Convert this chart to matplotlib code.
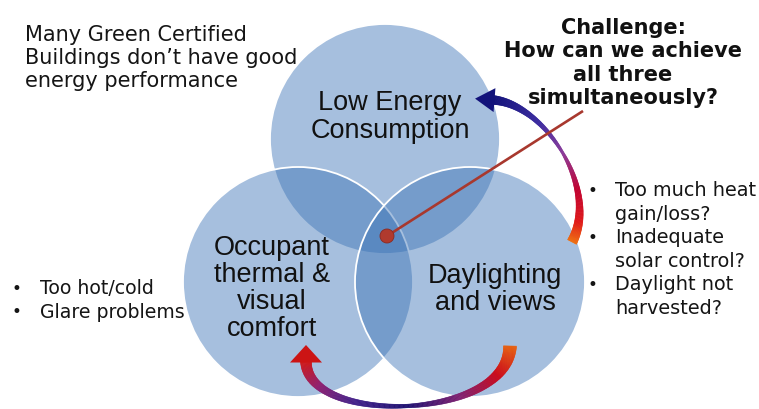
import numpy as np
import matplotlib
matplotlib.use("Agg")
import matplotlib.pyplot as plt
from matplotlib.patches import Circle, Polygon
from matplotlib.collections import PolyCollection
from matplotlib.colors import LinearSegmentedColormap

# canvas in pixels (y grows downwards)
W, H = 759, 410

# ------------------------------------------------------------
# content
# ------------------------------------------------------------
circle_labels = ["Low Energy\nConsumption",
                 "Occupant\nthermal &\nvisual\ncomfort",
                 "Daylighting\nand views"]
circle_x = [385, 298, 470]
circle_y = [140, 283, 283]
circle_r = 115
label_x = [390, 272, 495]
label_y = [117, 289, 290]

intro_text = "Many Green Certified\nBuildings don\u2019t have good\nenergy performance"
challenge_text = "Challenge:\nHow can we achieve\nall three\nsimultaneously?"

left_items = [["Too hot/cold"], ["Glare problems"]]
right_items = [["Too much heat", "gain/loss?"],
               ["Inadequate", "solar control?"],
               ["Daylight not", "harvested?"]]

# curved gradient arrows: bezier control points, width profile, colour ramp
arrow1_ctrl = [(572, 243), (600, 190), (545, 105), (493, 101)]
arrow1_ws = [0.0, 0.25, 0.5, 0.75, 1.0]
arrow1_w = [10, 6, 2.5, 5, 9]
arrow1_cols = [(0.0, "#f07010"), (0.12, "#e01818"), (0.3, "#c00030"),
               (0.5, "#8a3a9a"), (0.7, "#3a2aa0"), (1.0, "#12127a")]

arrow2_ctrl = [(510, 347), (508, 422), (306, 427), (306, 362)]
arrow2_ws = [0.0, 0.2, 0.5, 0.8, 1.0]
arrow2_w = [13, 8, 3.5, 7, 11]
arrow2_cols = [(0.0, "#e86010"), (0.15, "#cc0818"), (0.32, "#802070"),
               (0.5, "#1e1070"), (0.68, "#40208a"), (0.85, "#902070"),
               (1.0, "#d01818")]

# challenge pointer
pointer_start = (387, 237)
pointer_end = (583, 112)


def bezier(p, n=240):
    t = np.linspace(0, 1, n)[:, None]
    p = np.asarray(p, float)
    pts = (1 - t) ** 3 * p[0] + 3 * (1 - t) ** 2 * t * p[1] + 3 * (1 - t) * t ** 2 * p[2] + t ** 3 * p[3]
    d = 3 * (1 - t) ** 2 * (p[1] - p[0]) + 6 * (1 - t) * t * (p[2] - p[1]) + 3 * t ** 2 * (p[3] - p[2])
    return t.ravel(), pts, d


def ribbon(ax, ctrl, ws, wpx, colors, head_len, head_half, head_color):
    s, pts, d = bezier(ctrl)
    tang = d / np.linalg.norm(d, axis=1)[:, None]
    nrm = np.column_stack([-tang[:, 1], tang[:, 0]])
    hw = np.interp(s, ws, wpx)[:, None] / 2
    left = pts + nrm * hw
    right = pts - nrm * hw
    cmap = LinearSegmentedColormap.from_list("grad", colors)
    quads = [[left[i], left[i + 1], right[i + 1], right[i]] for i in range(len(s) - 1)]
    cols = cmap((s[:-1] + s[1:]) / 2)
    ax.add_collection(PolyCollection(quads, facecolors=cols, edgecolors=cols,
                                     linewidths=0.4, zorder=3))
    end = pts[-1] - tang[-1] * 1.5
    tip = pts[-1] + tang[-1] * head_len
    ax.add_patch(Polygon([tip, end + nrm[-1] * head_half, end - nrm[-1] * head_half],
                         closed=True, facecolor=head_color, edgecolor="none", zorder=3))


fig = plt.figure(figsize=(W / 100, H / 100), dpi=100)
ax = fig.add_axes([0, 0, 1, 1])
ax.set_xlim(0, W)
ax.set_ylim(H, 0)
ax.axis("off")

# circles
fill = (0.233, 0.451, 0.713, 0.45)
for cx, cy in zip(circle_x, circle_y):
    ax.add_patch(Circle((cx, cy), circle_r, facecolor=fill, edgecolor="white",
                        linewidth=1.3, zorder=1))

for txt, lx, ly in zip(circle_labels, label_x, label_y):
    ax.text(lx, ly, txt, ha="center", va="center", fontsize=19.5,
            family="Liberation Sans", color="#111111", linespacing=1.05, zorder=4)

# arrows
ribbon(ax, arrow1_ctrl, arrow1_ws, arrow1_w, arrow1_cols, 18, 12, "#12127a")
ribbon(ax, arrow2_ctrl, arrow2_ws, arrow2_w, arrow2_cols, 16, 16, "#cc1414")

# pointer line and dot
ax.plot([pointer_start[0], pointer_end[0]], [pointer_start[1], pointer_end[1]],
        color="#a8382e", linewidth=1.9, zorder=5, solid_capstyle="butt")
ax.add_patch(Circle(pointer_start, 7, facecolor="#b03a2e", edgecolor="#8a2a22",
                    linewidth=0.6, zorder=6))

# free text
ax.text(25, 58, intro_text, ha="left", va="center", fontsize=15,
        color="#151515", linespacing=1.18)
ax.text(623, 63, challenge_text, ha="center", va="center", fontsize=15,
        fontweight="bold", color="#111111", linespacing=1.2)

# bullet lists
y = 289
for item in left_items:
    ax.text(12, y, "\u2022", ha="left", va="center", fontsize=12, color="#151515")
    for line in item:
        ax.text(40, y, line, ha="left", va="center", fontsize=13.6, color="#151515")
        y += 23.5

y = 191
for item in right_items:
    ax.text(588, y, "\u2022", ha="left", va="center", fontsize=12, color="#151515")
    for line in item:
        ax.text(615, y, line, ha="left", va="center", fontsize=13.9, color="#151515")
        y += 23.5

fig.savefig("out.png", dpi=100)
